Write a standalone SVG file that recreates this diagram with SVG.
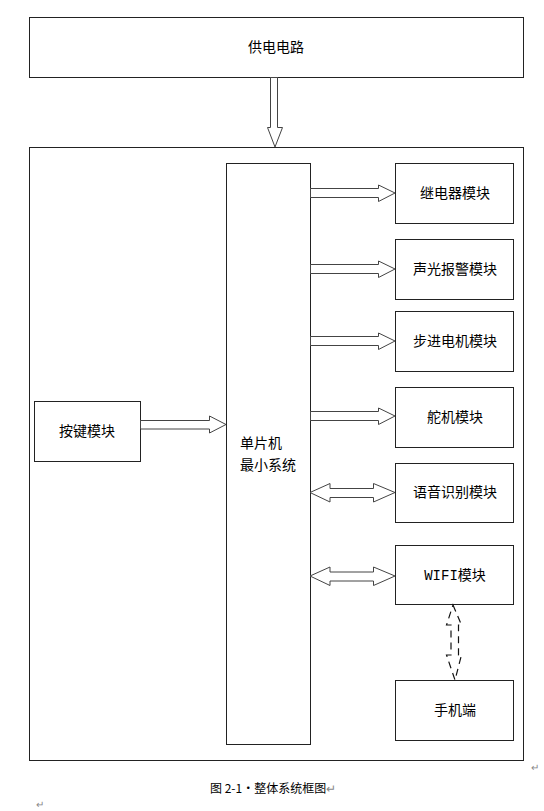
<svg xmlns="http://www.w3.org/2000/svg" width="544" height="811" viewBox="0 0 544 811">
<style>
.box{fill:#fff;stroke:#222;stroke-width:1}
.t{font-family:"Noto Sans CJK SC","Liberation Sans",sans-serif;font-size:14px;fill:#000;text-anchor:middle}
.ar{fill:#fff;stroke:#444;stroke-width:1}
.da{fill:none;stroke:#111;stroke-width:1.2;stroke-dasharray:7,5}
.mk{font-family:"Liberation Sans",sans-serif;font-size:10px;fill:#888}
</style>
<rect width="544" height="811" fill="#fff"/>
<g id="power"><rect class="box" x="29.5" y="17.5" width="494" height="60"/><text class="t" x="276" y="52">供电电路</text></g>
<g id="outer"><rect class="box" x="29.5" y="147.5" width="494" height="613"/></g>
<g id="mcu"><rect class="box" x="226.5" y="163.5" width="84" height="581"/><text class="t" x="240" y="448" style="text-anchor:start">单片机</text><text class="t" x="240" y="470" style="text-anchor:start">最小系统</text></g>
<g id="key"><rect class="box" x="34.5" y="401.5" width="106" height="60"/><text class="t" x="87" y="436">按键模块</text></g>
<g id="relay"><rect class="box" x="395.5" y="163.5" width="118" height="60"/><text class="t" x="455" y="198">继电器模块</text></g>
<g id="alarm"><rect class="box" x="395.5" y="239.5" width="118" height="60"/><text class="t" x="455" y="274">声光报警模块</text></g>
<g id="stepper"><rect class="box" x="395.5" y="311.5" width="118" height="60"/><text class="t" x="455" y="346">步进电机模块</text></g>
<g id="servo"><rect class="box" x="395.5" y="387.5" width="118" height="60"/><text class="t" x="455" y="422">舵机模块</text></g>
<g id="voice"><rect class="box" x="395.5" y="463.5" width="118" height="59"/><text class="t" x="455" y="497">语音识别模块</text></g>
<g id="wifi"><rect class="box" x="395.5" y="545.5" width="118" height="59"/><text class="t" x="455" y="580"><tspan style="font-family:'Liberation Mono',monospace">WIFI</tspan>模块</text></g>
<g id="phone"><rect class="box" x="395.5" y="680.5" width="118" height="60"/><text class="t" x="455" y="715">手机端</text></g>
<g id="connectors">
<polygon class="ar" points="270.5,77.5 277.5,77.5 277.5,127.5 282.5,127.5 275,147 267.5,127.5 270.5,127.5"/>
<polygon class="ar" points="310.5,188.5 378.5,188.5 378.5,185 395,193 378.5,201.5 378.5,197.5 310.5,197.5"/>
<polygon class="ar" points="310.5,264.5 378.5,264.5 378.5,261 395,269 378.5,277.5 378.5,273.5 310.5,273.5"/>
<polygon class="ar" points="310.5,336.5 378.5,336.5 378.5,333 395,341 378.5,349.5 378.5,345.5 310.5,345.5"/>
<polygon class="ar" points="310.5,411.5 378.5,411.5 378.5,408 395,416 378.5,424.5 378.5,420.5 310.5,420.5"/>
<polygon class="ar" points="140.5,420.5 209.5,420.5 209.5,416 226,424.5 209.5,433 209.5,429 140.5,429"/>
<polygon class="ar" points="310,492.5 330,483.5 330,488.5 373.5,488.5 373.5,483.5 395,492.5 373.5,502 373.5,497.5 330,497.5 330,502"/>
<polygon class="ar" points="310,576 330,567 330,572 373.5,572 373.5,567 395,576 373.5,585.5 373.5,581 330,581 330,585.5"/>
<polygon class="da" points="453,605 461.5,625 458.5,625 458.5,655 461.5,655 455,680 446.5,655 451,655 451,625 446.5,625"/>
</g>
<text x="210" y="793" style="font-family:'Noto Sans CJK SC',sans-serif;font-size:12px">图 2-1·整体系统框图<tspan fill="#888">↵</tspan></text>
<text class="mk" x="531" y="771">↵</text>
<text class="mk" x="36" y="808">↵</text>
</svg>
